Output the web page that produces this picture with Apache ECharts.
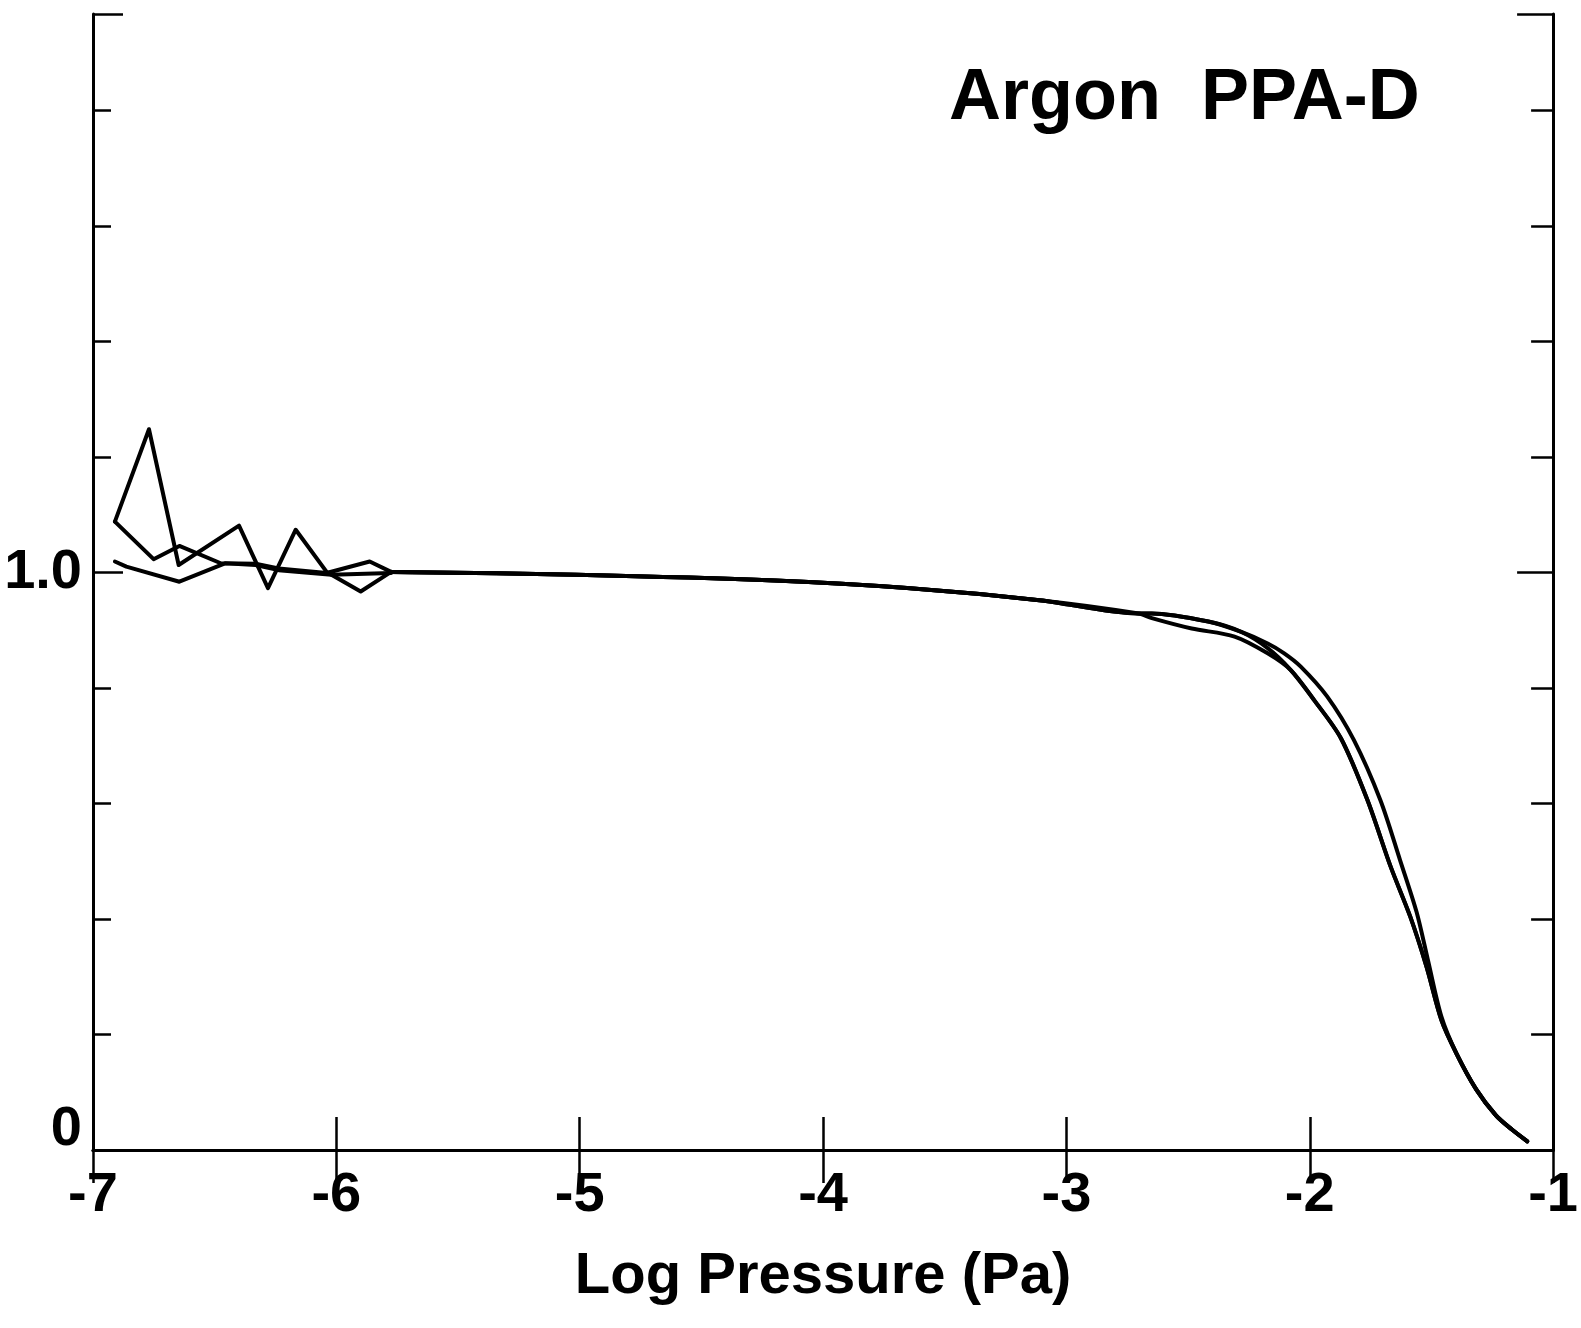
<!DOCTYPE html>
<html>
<head>
<meta charset="utf-8">
<script src="https://cdn.jsdelivr.net/npm/echarts@6/dist/echarts.min.js"></script>
<style>
  html, body { margin: 0; padding: 0; background: #fff; }
  #chart { width: 1581px; height: 1328px; }
</style>
</head>
<body>
<div id="chart"></div>
<script>
// ---- data (x = log pressure, y = relative sensitivity) ----
const xTickValues = [-7, -6, -5, -4, -3, -2, -1];
const yLabelValues = [0, 1];
const titleText = 'Argon  PPA-D';
const xAxisTitle = 'Log Pressure (Pa)';

// noisy low-pressure start, one array per run
const run1StartX = [-6.910, -6.770, -6.648, -6.400, -6.281, -6.167, -6.040, -5.900, -5.775];
const run1StartY = [1.088, 1.248, 1.013, 1.081, 0.973, 1.074, 1.001, 0.967, 1.001];
const run2StartX = [-6.910, -6.751, -6.645, -6.475, -6.332, -6.237, -6.040, -5.863, -5.775];
const run2StartY = [1.088, 1.023, 1.046, 1.016, 1.015, 1.007, 0.999, 1.019, 1.001];
const run3StartX = [-6.910, -6.863, -6.645, -6.455, -6.332, -6.237, -6.020, -5.775];
const run3StartY = [1.019, 1.010, 0.984, 1.016, 1.013, 1.004, 0.996, 0.999];

// shared plateau
const plateauX = [-5.775, -5.014, -4.198, -3.655, -3.111, -2.703];
const plateauY = [1.001, 0.996, 0.986, 0.973, 0.952, 0.929];

// roll-off, per run
const run1FallX = [-2.649, -2.417, -2.281, -2.173, -2.105, -2.037, -1.928, -1.819, -1.710, -1.629, -1.561, -1.515, -1.459];
const run1FallY = [0.929, 0.915, 0.897, 0.877, 0.860, 0.837, 0.785, 0.710, 0.606, 0.502, 0.412, 0.330, 0.231];
const run2FallX = [-2.649, -2.417, -2.281, -2.173, -2.078, -1.982, -1.872, -1.763, -1.668, -1.587, -1.520, -1.459];
const run2FallY = [0.929, 0.915, 0.897, 0.869, 0.831, 0.779, 0.713, 0.606, 0.491, 0.404, 0.317, 0.225];
const run3FallX = [-2.649, -2.485, -2.309, -2.173, -2.078, -1.982, -1.872, -1.763, -1.668, -1.587, -1.520, -1.459];
const run3FallY = [0.921, 0.903, 0.889, 0.860, 0.831, 0.779, 0.713, 0.606, 0.491, 0.404, 0.317, 0.225];

// shared tail
const tailX = [-1.397, -1.316, -1.235, -1.168, -1.106];
const tailY = [0.167, 0.105, 0.060, 0.035, 0.015];

const yMax = 1.967;

function pairs(xs, ys) { return xs.map((x, i) => [x, ys[i]]); }
function smoothPart(fx, fy) {
  return [].concat(pairs(plateauX, plateauY), pairs(fx, fy), pairs(tailX, tailY));
}

const FONT = 'Liberation Sans, Arial, Helvetica, sans-serif';
const BLACK = '#000';

const chart = echarts.init(document.getElementById('chart'), null, { renderer: 'canvas' });

const lineSeries = (name, data, smooth) => ({
  name, type: 'line', data, showSymbol: false, smooth: smooth,
  xAxisIndex: 0, yAxisIndex: 0,
  lineStyle: { color: BLACK, width: 4, join: 'round', cap: 'round' }, emphasis: { disabled: true }
});

chart.setOption({
  animation: false,
  backgroundColor: '#fff',
  title: {
    text: titleText, left: 944, top: 58,
    textStyle: { fontFamily: FONT, fontSize: 72, fontWeight: 'bold', color: BLACK }
  },
  grid: { left: 93, right: 17, top: 14, bottom: 178, containLabel: false },
  xAxis: [
    {
      type: 'value', position: 'bottom', min: -7, max: -1, interval: 1,
      axisLine: { show: true, lineStyle: { color: BLACK, width: 3 } },
      axisTick: { show: true, inside: true, length: 33, lineStyle: { color: BLACK, width: 2.5 },
                  customValues: xTickValues },
      axisLabel: { show: true, color: BLACK, fontSize: 56, fontWeight: 'bold', fontFamily: FONT,
                   margin: 18, customValues: xTickValues, formatter: v => String(v) },
      splitLine: { show: false },
      name: xAxisTitle, nameLocation: 'middle', nameGap: 98,
      nameTextStyle: { color: BLACK, fontSize: 58, fontWeight: 'bold', fontFamily: FONT }
    },
    {
      type: 'value', position: 'top', min: -7, max: -1, interval: 1,
      axisLine: { show: true, lineStyle: { color: BLACK, width: 3 } },
      axisTick: { show: true, inside: true, length: 33, lineStyle: { color: BLACK, width: 2.5 } },
      axisLabel: { show: false }, splitLine: { show: false }
    }
  ],
  yAxis: [
    {
      type: 'value', position: 'left', min: 0, max: yMax, interval: 0.2,
      axisLine: { show: true, lineStyle: { color: BLACK, width: 3 } },
      axisTick: { show: true, inside: true, length: 18, lineStyle: { color: BLACK, width: 2.5 } },
      axisLabel: { show: false }, splitLine: { show: false }
    },
    {
      type: 'value', position: 'left', min: 0, max: yMax, interval: 1,
      axisLine: { show: false },
      axisTick: { show: true, inside: true, length: 30, lineStyle: { color: BLACK, width: 2.5 } },
      axisLabel: {
        show: true, color: BLACK, fontSize: 56, fontWeight: 'bold', fontFamily: FONT, margin: 11,
        formatter: v => (v === yLabelValues[0] ? '{z|0}' : (v === yLabelValues[1] ? '1.0' : '')),
        rich: { z: { fontSize: 56, fontWeight: 'bold', fontFamily: FONT, color: BLACK, padding: [0, 0, 40, 0] } }
      },
      splitLine: { show: false }
    },
    {
      type: 'value', position: 'right', min: 0, max: yMax, interval: 0.2,
      axisLine: { show: true, lineStyle: { color: BLACK, width: 3 } },
      axisTick: { show: true, inside: true, length: 22, lineStyle: { color: BLACK, width: 2.5 } },
      axisLabel: { show: false }, splitLine: { show: false }
    },
    {
      type: 'value', position: 'right', min: 0, max: yMax, interval: 1,
      axisLine: { show: false },
      axisTick: { show: true, inside: true, length: 36, lineStyle: { color: BLACK, width: 2.5 } },
      axisLabel: { show: false }, splitLine: { show: false }
    }
  ],
  series: [
    lineSeries('Run 1', pairs(run1StartX, run1StartY), false),
    lineSeries('Run 2', pairs(run2StartX, run2StartY), false),
    lineSeries('Run 3', pairs(run3StartX, run3StartY), false),
    lineSeries('Run 1', smoothPart(run1FallX, run1FallY), 0.3),
    lineSeries('Run 2', smoothPart(run2FallX, run2FallY), 0.3),
    lineSeries('Run 3', smoothPart(run3FallX, run3FallY), 0.3)
  ]
});
</script>
</body>
</html>
